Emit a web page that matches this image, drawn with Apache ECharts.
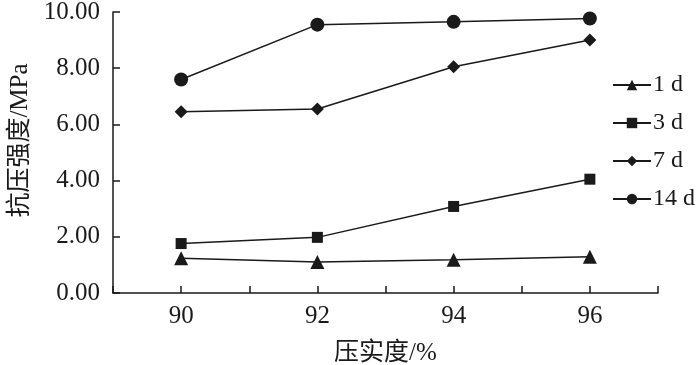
<!DOCTYPE html>
<html>
<head>
<meta charset="utf-8">
<script src="https://cdn.jsdelivr.net/npm/echarts@6/dist/echarts.min.js"></script>
<style>
  html, body { margin: 0; padding: 0; background: #fff; }
  #chart { width: 700px; height: 365px; }
</style>
</head>
<body>
<div id="chart"></div>
<script>
// 压实度 (%)
const compaction = [90, 92, 94, 96];
// 各龄期抗压强度 (MPa)
const day1 = [1.24, 1.10, 1.18, 1.29];
const day3 = [1.76, 1.98, 3.08, 4.05];
const day7 = [6.45, 6.55, 8.05, 9.00];
const day14 = [7.60, 9.55, 9.65, 9.77];
const seriesNames = ["1 d", "3 d", "7 d", "14 d"];
const yTicks = [0, 2, 4, 6, 8, 10];

const serifFont = '"Liberation Serif", "Times New Roman", "Noto Sans CJK SC", serif';
const ink = "#1a1a1a";

let chart = echarts.init(document.getElementById("chart"), null, { renderer: "canvas" });

function pairs(vals) {
  return compaction.map((x, i) => [x, vals[i]]);
}

function lineSeries(name, vals, symbol, size) {
  return {
    name: name,
    type: "line",
    data: pairs(vals),
    symbol: symbol,
    symbolSize: size,
    showAllSymbol: true,
    lineStyle: { color: ink, width: 1.5 },
    itemStyle: { color: ink },
    emphasis: { disabled: true },
  };
}

const option = {
  animation: false,
  textStyle: { fontFamily: serifFont },
  grid: { left: 113, right: 42, top: 12, bottom: 72, containLabel: false, outerBoundsMode: "none" },
  legend: {
    orient: "vertical",
    left: 607,
    top: 68,
    itemWidth: 38,
    itemHeight: 13,
    itemGap: 14,
    data: seriesNames,
    textStyle: { fontFamily: serifFont, fontSize: 24, color: ink, padding: [0, 0, 0, -3] },
  },
  xAxis: {
    type: "value",
    min: 89,
    max: 97,
    interval: 1,
    name: "压实度/%",
    nameLocation: "middle",
    nameGap: 48,
    nameTextStyle: { fontFamily: serifFont, fontSize: 25, color: ink },
    axisLine: { lineStyle: { color: ink, width: 1.5 } },
    axisTick: { inside: true, length: 7, lineStyle: { color: ink, width: 1.5 } },
    axisLabel: {
      margin: 11,
      fontSize: 25,
      color: ink,
      formatter: (v) => (v % 2 === 0 ? String(v) : ""),
    },
    splitLine: { show: false },
  },
  yAxis: {
    type: "value",
    min: yTicks[0],
    max: yTicks[yTicks.length - 1],
    interval: 2,
    name: "抗压强度/MPa",
    nameLocation: "middle",
    nameGap: 79,
    nameTextStyle: { fontFamily: serifFont, fontSize: 25, color: ink, padding: [0, 0, 0, 24] },
    axisLine: { show: true, lineStyle: { color: ink, width: 1.5 } },
    axisTick: { show: true, inside: true, length: 7, lineStyle: { color: ink, width: 1.5 } },
    axisLabel: {
      margin: 13,
      fontSize: 25,
      color: ink,
      formatter: (v) => v.toFixed(2),
    },
    splitLine: { show: false },
  },
  series: [
    lineSeries(seriesNames[0], day1, "triangle", 14),
    lineSeries(seriesNames[1], day3, "rect", 11),
    lineSeries(seriesNames[2], day7, "diamond", 13),
    lineSeries(seriesNames[3], day14, "circle", 14),
  ],
};

chart.setOption(option);
</script>
</body>
</html>
